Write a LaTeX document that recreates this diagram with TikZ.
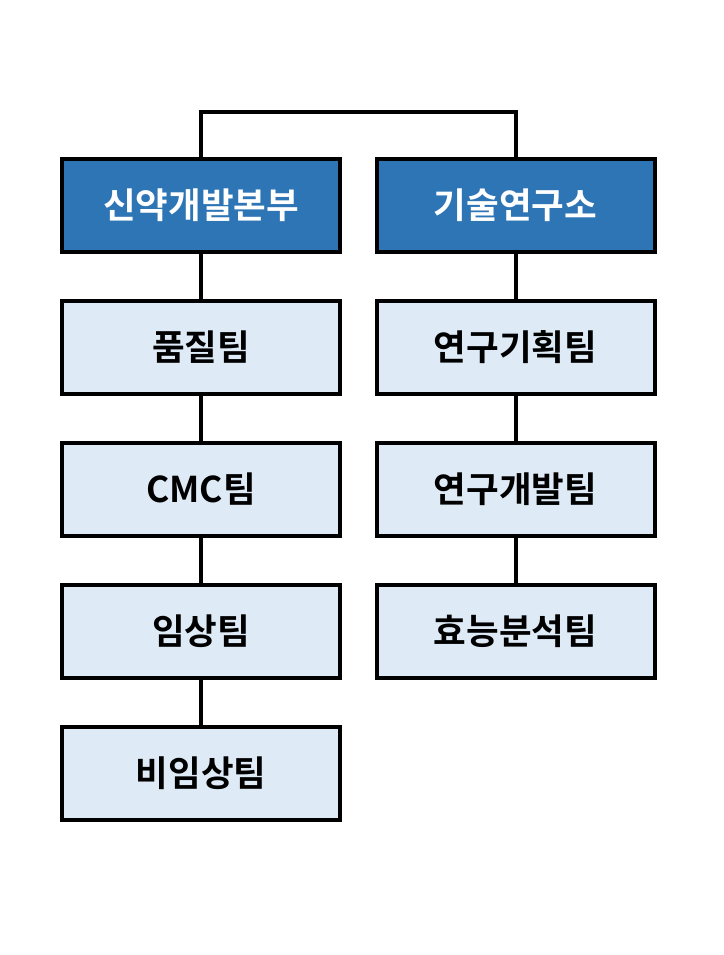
\documentclass[tikz,border=0pt]{standalone}
\usepackage{fontspec}
\newfontfamily\kr{Noto Sans CJK KR Bold}
\definecolor{hdblue}{HTML}{2E75B6}
\definecolor{lightbox}{HTML}{DEEBF7}
\begin{document}
\begin{tikzpicture}[x=1pt,y=-1pt,
  box/.style={draw=black,line width=4pt,minimum width=278pt,minimum height=93pt,inner sep=0pt,font=\kr\fontsize{35.5}{40}\selectfont},
  head/.style={box,fill=hdblue,text=white},
  team/.style={box,fill=lightbox,text=black},
  link/.style={draw=black,line width=4pt}]
\useasboundingbox[fill=white] (0,0) rectangle (723,955);
\node[head] (a) at (201,205.5) {신약개발본부};
\node[head] (b) at (515.5,205.5) {기술연구소};
\node[team] (a1) at (201,347) {품질팀};
\node[team] (a2) at (201,489) {CMC팀};
\node[team] (a3) at (201,631) {임상팀};
\node[team] (a4) at (201,773) {비임상팀};
\node[team] (b1) at (515.5,347) {연구기획팀};
\node[team] (b2) at (515.5,489) {연구개발팀};
\node[team] (b3) at (515.5,631) {효능분석팀};
\coordinate (tl) at (201,112);
\coordinate (tr) at (515.5,112);
\draw[link] (a.north) -- (tl) -- (tr) -- (b.north);
\draw[link] (a.south) -- (a1.north);
\draw[link] (a1.south) -- (a2.north);
\draw[link] (a2.south) -- (a3.north);
\draw[link] (a3.south) -- (a4.north);
\draw[link] (b.south) -- (b1.north);
\draw[link] (b1.south) -- (b2.north);
\draw[link] (b2.south) -- (b3.north);
\end{tikzpicture}
\end{document}
